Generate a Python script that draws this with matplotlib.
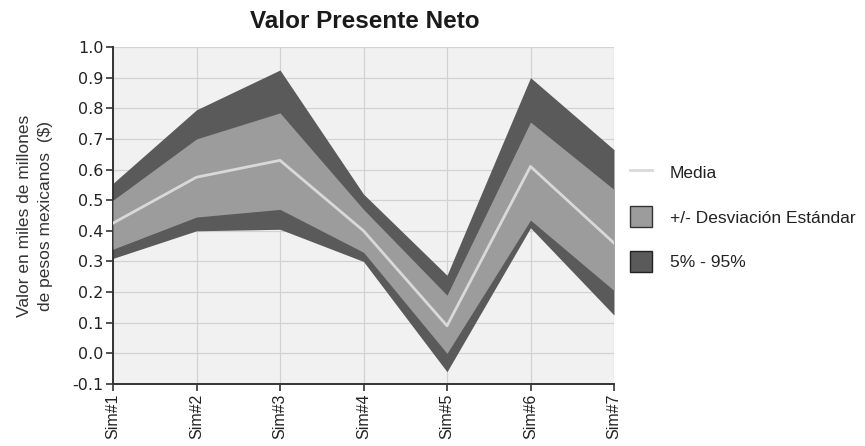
import matplotlib
matplotlib.use("Agg")
import matplotlib.pyplot as plt
from matplotlib.patches import Patch
from matplotlib.lines import Line2D

sims = ["Sim#1", "Sim#2", "Sim#3", "Sim#4", "Sim#5", "Sim#6", "Sim#7"]
p95 = [0.555, 0.795, 0.925, 0.52, 0.255, 0.90, 0.665]
std_hi = [0.50, 0.70, 0.785, 0.47, 0.19, 0.755, 0.535]
mean = [0.425, 0.575, 0.63, 0.40, 0.09, 0.61, 0.36]
std_lo = [0.34, 0.445, 0.47, 0.33, 0.0, 0.435, 0.205]
p5 = [0.31, 0.40, 0.405, 0.30, -0.06, 0.41, 0.125]
yticks = [-0.1, 0.0, 0.1, 0.2, 0.3, 0.4, 0.5, 0.6, 0.7, 0.8, 0.9, 1.0]

dark = "#5a5a5a"
mid = "#9c9c9c"
line_c = "#d9d9d9"

fig = plt.figure(figsize=(8.65, 4.46), dpi=100)
ax = fig.add_axes([113 / 865, 1 - 384 / 446, 501 / 865, 337 / 446])
ax.set_facecolor("#f1f1f1")

x = list(range(len(sims)))
ax.fill_between(x, p5, p95, color=dark, lw=0, zorder=2)
ax.fill_between(x, std_lo, std_hi, color=mid, lw=0, zorder=3)
ax.plot(x, mean, color=line_c, lw=2, zorder=4)

ax.set_xlim(0, len(sims) - 1)
ax.set_ylim(-0.1, 1.0)
ax.set_yticks(yticks)
ax.set_yticklabels([f"{v:.1f}" for v in yticks], family="DejaVu Sans", fontsize=11.5, color="#222222")
ax.set_xticks(x)
ax.set_xticklabels(sims, rotation=90, family="Liberation Sans", fontsize=11.5, color="#222222")
ax.grid(True, color="#d2d2d2", lw=0.9, zorder=1)
ax.set_axisbelow(True)

for s in ["top", "right"]:
    ax.spines[s].set_visible(False)
for s in ["left", "bottom"]:
    ax.spines[s].set_color("#333333")
    ax.spines[s].set_linewidth(1.4)
ax.tick_params(axis="both", direction="out", length=5, width=1.2, color="#333333", pad=2)

ax.set_ylabel("Valor en miles de millones\nde pesos mexicanos  ($)", family="Liberation Sans",
              fontsize=12.5, color="#333333", labelpad=14, linespacing=1.5)
fig.text(365 / 865, 1 - 22 / 446, "Valor Presente Neto", ha="center", va="center",
         family="Liberation Sans", fontsize=17.5, fontweight="bold", color="#1a1a1a")

handles = [
    Line2D([0], [0], color=line_c, lw=2),
    Patch(facecolor=mid, edgecolor="#333333", lw=1),
    Patch(facecolor=dark, edgecolor="#222222", lw=1),
]
labels = ["Media", "+/- Desviación Estándar", "5% - 95%"]
leg = fig.legend(handles, labels, loc="upper left", bbox_to_anchor=(614 / 865, 1 - 146 / 446),
                 frameon=False, prop={"family": "Liberation Sans", "size": 12.5},
                 handlelength=1.3, handleheight=1.5, labelspacing=1.35, handletextpad=1.0)
for t in leg.get_texts():
    t.set_color("#222222")

fig.savefig("out.png", dpi=100, facecolor="white")
